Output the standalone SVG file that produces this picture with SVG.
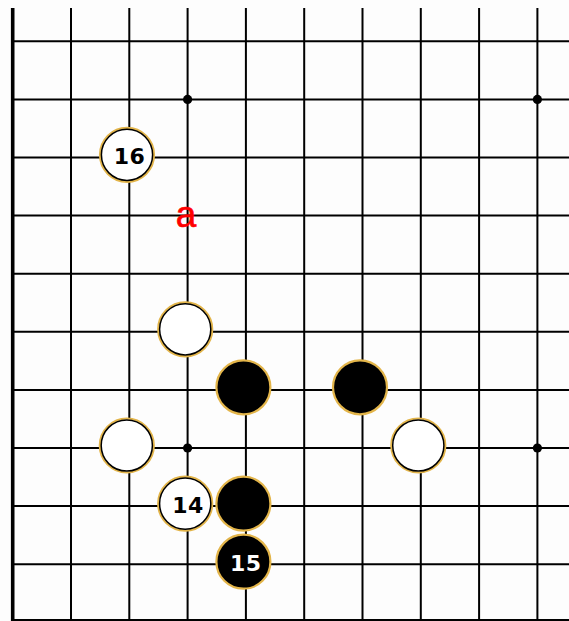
<svg xmlns="http://www.w3.org/2000/svg" width="569" height="621" viewBox="0 0 569 621">
<style>
.g{stroke:#000;stroke-width:2;fill:none}
.edge{stroke:#000;stroke-width:3.6;fill:none}
.star{fill:#000}
.w{fill:#fff;stroke:#e3b54a;stroke-width:2.2}
.wi{fill:none;stroke:#000;stroke-width:1.5}
.b{fill:#000;stroke:#e3b54a;stroke-width:2.2}
.num{font-family:"DejaVu Sans",Verdana,sans-serif;font-weight:bold;font-size:22px;letter-spacing:0.5px;text-anchor:middle;dominant-baseline:central}
.nb{fill:#000}
.nw{fill:#fff}
.lbl{font-family:"Liberation Sans",Arial,sans-serif;font-size:37px;fill:#ff0000;text-anchor:middle;stroke:#ff0000;stroke-width:0.6}
</style>
<rect width="569" height="621" fill="#fdfdfd"/>
<g id="grid">
<g class="g">
<path d="M12 41.3H569M12 99.4H569M12 157.5H569M12 215.6H569M12 273.7H569M12 331.8H569M12 389.9H569M12 448H569M12 506.1H569M12 564.2H569M12 620H569"/>
<path d="M71 8V621M129.3 8V621M187.6 8V621M245.9 8V621M304.2 8V621M362.5 8V621M420.8 8V621M479.1 8V621M537.4 8V621"/>
</g>
<path class="edge" d="M12.7 8V621"/>
<circle class="star" cx="187.6" cy="99.4" r="4.6"/>
<circle class="star" cx="537.4" cy="99.4" r="4.6"/>
<circle class="star" cx="187.6" cy="448" r="4.6"/>
<circle class="star" cx="537.4" cy="448" r="4.6"/>
</g>
<g id="connectors"></g>
<g id="w16"><circle class="w" cx="127" cy="154.8" r="27"/><circle class="wi" cx="127" cy="154.8" r="25.6"/><text class="num nb" x="129.5" y="156.5">16</text></g>
<g id="label-a"><text class="lbl" x="186" y="226.5">a</text></g>
<g id="w1"><circle class="w" cx="185.2" cy="329.3" r="27"/><circle class="wi" cx="185.2" cy="329.3" r="25.6"/></g>
<g id="b1"><circle class="b" cx="243.4" cy="387.3" r="27"/></g>
<g id="b2"><circle class="b" cx="360" cy="387.3" r="27"/></g>
<g id="w2"><circle class="w" cx="126.8" cy="445.5" r="27"/><circle class="wi" cx="126.8" cy="445.5" r="25.6"/></g>
<g id="w3"><circle class="w" cx="418.3" cy="445.5" r="27"/><circle class="wi" cx="418.3" cy="445.5" r="25.6"/></g>
<g id="w14"><circle class="w" cx="185.2" cy="503.6" r="27"/><circle class="wi" cx="185.2" cy="503.6" r="25.6"/><text class="num nb" x="188" y="505.2">14</text></g>
<g id="b3"><circle class="b" cx="243.4" cy="503.6" r="27"/></g>
<g id="b15"><circle class="b" cx="243.4" cy="561.7" r="27"/><text class="num nw" x="245.8" y="563">15</text></g>
</svg>
